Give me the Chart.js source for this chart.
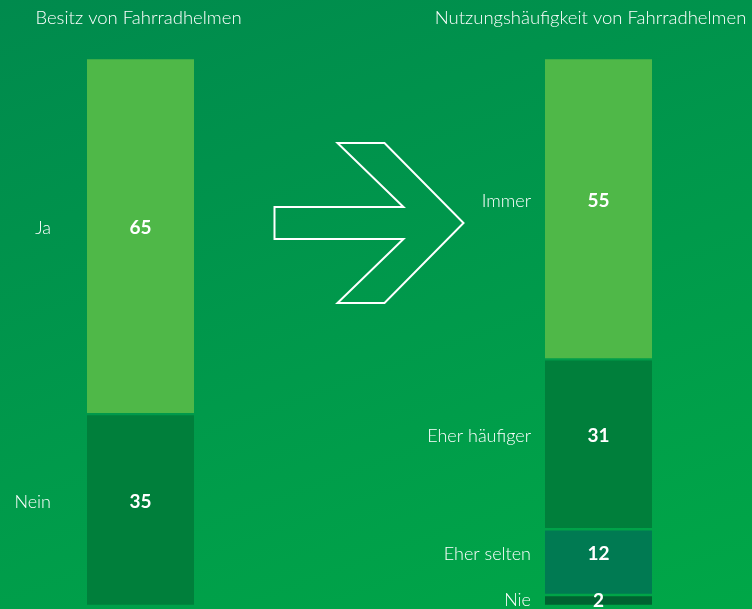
<!DOCTYPE html>
<html>
<head>
<meta charset="utf-8">
<script src="https://cdn.jsdelivr.net/npm/chart.js@4/dist/chart.umd.min.js"></script>
<style>
  html, body { margin: 0; padding: 0; }
  body {
    width: 752px; height: 609px; overflow: hidden;
    background: linear-gradient(160deg, #008a4d 0%, #009a4b 55%, #00a747 100%);
  }
  #wrap { position: relative; width: 752px; height: 609px; }
</style>
</head>
<body>
<div id="wrap"><canvas id="helmChart" width="752" height="609"></canvas></div>
<script>
// Columns: left = Besitz, middle = arrow gap, right = Nutzung
const columns = ["Besitz", "", "Nutzung"];
const titles = ["Besitz von Fahrradhelmen", "", "Nutzungshäufigkeit von Fahrradhelmen"];

// Segments, listed bottom to top
const besitzLabels = ["Nein", "Ja"];
const besitzValues = [35, 65];
const besitzColors = ["#007f3b", "#4fb848"];

const nutzungLabels = ["Nie", "Eher selten", "Eher häufiger", "Immer"];
const nutzungValues = [2, 12, 31, 55];
const nutzungColors = ["#006331", "#007a52", "#007f3b", "#4fb848"];

const datasets = [];
besitzLabels.forEach((name, i) => {
  datasets.push({ label: name, data: [besitzValues[i], null, null], backgroundColor: besitzColors[i] });
});
nutzungLabels.forEach((name, i) => {
  datasets.push({ label: name, data: [null, null, nutzungValues[i]], backgroundColor: nutzungColors[i] });
});
datasets.forEach(ds => {
  ds.borderColor = "rgba(0,0,0,0)";
  ds.borderWidth = { top: 1.5, bottom: 1.5, left: 0, right: 0 };
  ds.borderSkipped = false;
  ds.barThickness = 107;
});

// gap between category label and bar, per column
const labelGap = [36, 0, 14];

/* labels, values, titles and arrow */
const decorPlugin = {
  id: "decor",
  afterDatasetsDraw(chart) {
    const ctx = chart.ctx;
    const xs = chart.scales.x;
    ctx.save();
    ctx.fillStyle = "#ffffff";

    // titles
    ctx.font = "300 18.5px Lato";
    ctx.textAlign = "center";
    ctx.textBaseline = "alphabetic";
    ctx.fillText(titles[0], xs.getPixelForValue(0) - 2, 24);
    ctx.fillText(titles[2], xs.getPixelForValue(2) - 8, 24);

    chart.data.datasets.forEach((ds, di) => {
      const meta = chart.getDatasetMeta(di);
      ds.data.forEach((v, idx) => {
        if (v == null) return;
        const bar = meta.data[idx];
        const cy = (bar.y + bar.base) / 2 - (v < 5 ? 0 : 8);
        ctx.textBaseline = "middle";
        ctx.font = "bold 19px Lato";
        ctx.textAlign = "center";
        ctx.fillText(String(v), bar.x, cy);
        ctx.font = "300 18px Lato";
        ctx.textAlign = "right";
        ctx.fillText(ds.label, bar.x - bar.width / 2 - labelGap[idx], cy);
      });
    });

    // arrow outline in the middle column
    const ax = xs.getPixelForValue(1);
    const ay = 223;
    const pts = [[-95, -16], [34, -16], [-32, -80], [15, -80], [94, 0], [15, 80], [-32, 80], [34, 16], [-95, 16]];
    ctx.beginPath();
    pts.forEach((p, i) => {
      if (i === 0) ctx.moveTo(ax + p[0], ay + p[1]);
      else ctx.lineTo(ax + p[0], ay + p[1]);
    });
    ctx.closePath();
    ctx.strokeStyle = "#ffffff";
    ctx.lineWidth = 2;
    ctx.lineJoin = "miter";
    ctx.stroke();
    ctx.restore();
  }
};

new Chart(document.getElementById("helmChart"), {
  type: "bar",
  data: { labels: columns, datasets },
  options: {
    responsive: false,
    animation: false,
    layout: { padding: { left: 26, right: 39, top: 58, bottom: 3 } },
    plugins: { legend: { display: false }, tooltip: { enabled: false } },
    scales: {
      x: { stacked: true, display: false, grid: { display: false } },
      y: { stacked: true, display: false, min: 0, max: 100, grid: { display: false } }
    }
  },
  plugins: [decorPlugin]
});
</script>
</body>
</html>
